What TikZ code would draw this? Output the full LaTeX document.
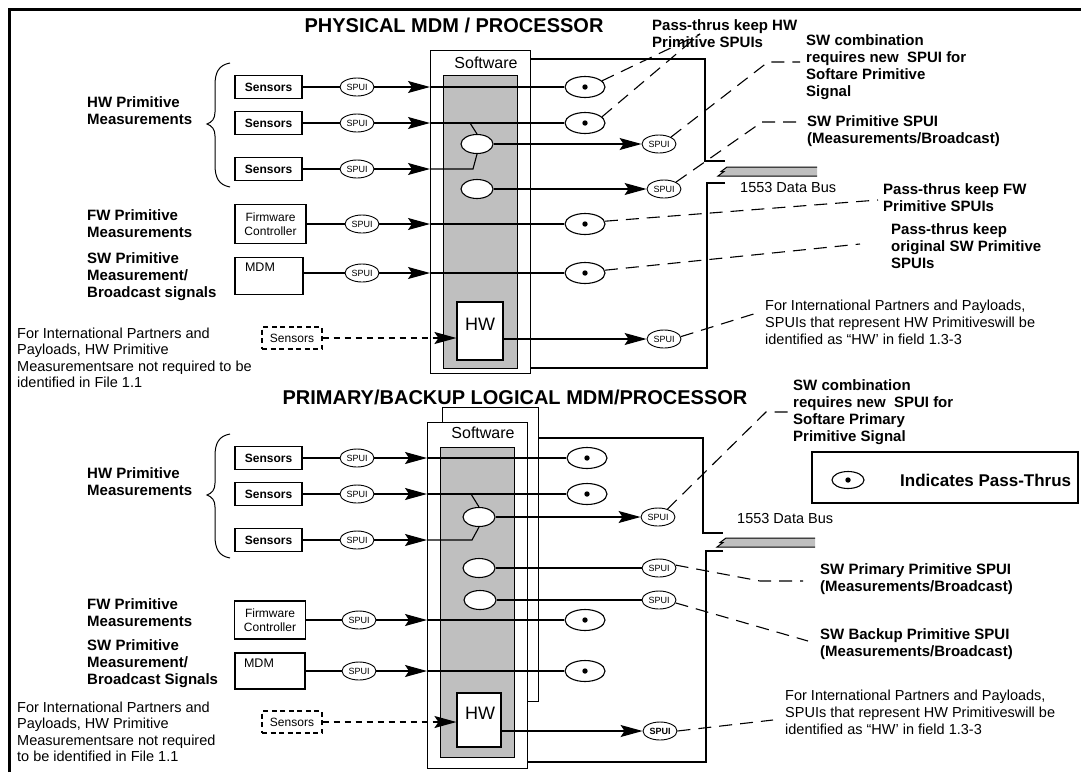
\documentclass[tikz,border=0pt]{standalone}
\usepackage{fontspec}
\setmainfont{Liberation Sans}
\usetikzlibrary{shapes.geometric,arrows.meta}
\begin{document}
\begin{tikzpicture}[x=1pt,y=-1pt,
  lbl/.style={font=\fontsize{15}{17}\selectfont\bfseries,align=left,anchor=west,inner sep=0pt},
  note/.style={font=\fontsize{14.5}{17}\selectfont,align=left,anchor=west,inner sep=0pt},
  ttl/.style={font=\fontsize{20}{24}\selectfont\bfseries,inner sep=0pt,anchor=base},
  sensor/.style={draw,line width=1.1pt,minimum width=67pt,minimum height=23pt,inner sep=0pt,font=\fontsize{12}{14}\selectfont\bfseries},
  unitbox/.style={draw,line width=1.1pt,inner sep=0pt,font=\fontsize{12}{14.5}\selectfont,align=center},
  spui/.style={draw,ellipse,line width=0.9pt,fill=white,minimum width=34pt,minimum height=18pt,inner sep=0pt,font=\fontsize{9}{10}\selectfont},
  pass/.style={draw,ellipse,line width=1.1pt,fill=white,minimum width=40pt,minimum height=21pt,inner sep=0pt,
    path picture={\fill[black] (path picture bounding box.center) circle (2.7pt);}},
  comb/.style={draw,ellipse,line width=1.1pt,fill=white,minimum width=32pt,minimum height=19pt,inner sep=0pt},
  swbox/.style={draw,line width=1.1pt,fill=white,anchor=north west,inner sep=0pt},
  panel/.style={draw,line width=1.1pt,fill=black!25,anchor=north west,inner sep=0pt},
  hwbox/.style={draw,line width=1.1pt,fill=white,inner sep=0pt},
  hwtxt/.style={font=\fontsize{18}{20}\selectfont,inner sep=0pt},
  swtxt/.style={font=\fontsize{16}{18}\selectfont,inner sep=0pt},
  dsens/.style={draw,line width=1.4pt,dash pattern=on 5pt off 3.5pt,minimum width=60pt,minimum height=22pt,inner sep=0pt,font=\fontsize{12}{14}\selectfont},
  wire/.style={line width=1.1pt},
  arr/.style={line width=1.1pt,-{Stealth[length=22pt,width=12pt,inset=4pt]}},
  darr/.style={line width=1.4pt,dash pattern=on 6pt off 5pt,-{Stealth[length=22pt,width=12pt,inset=4pt]}},
  lead/.style={line width=1.1pt,dash pattern=on 13pt off 8pt},
  bracecurve/.style={line width=1pt},
]
\useasboundingbox (0,0) rectangle (1081,772);
% outer frame (top and left)
\draw[line width=2.6pt] (9.5,772) -- (9.5,9.5) -- (1081,9.5);

% ================= PHYSICAL MDM / PROCESSOR =================
\node[ttl] (t1) at (454,32) {PHYSICAL MDM / PROCESSOR};
\node[swbox,minimum width=100pt,minimum height=323pt] (sw1) at (430,50) {};
\node[panel,minimum width=74pt,minimum height=293pt] (g1) at (443,75) {};
\node[swtxt] (swl1) at (486,63) {Software};

\node[lbl] (hwl1) at (87,111) {HW Primitive\\Measurements};
\draw[bracecurve] (230,63) .. controls (219,65) and (215,72) .. (215,85) -- (215,112)
  .. controls (215,119) and (212,122) .. (207,124) .. controls (212,126) and (215,129) .. (215,136)
  -- (215,165) .. controls (215,178) and (219,185) .. (230,187);

\node[sensor] (sa1) at (268.5,87) {Sensors};
\node[sensor] (sa2) at (268.5,123) {Sensors};
\node[sensor] (sa3) at (268.5,169) {Sensors};
\node[spui] (ua1) at (357,87) {SPUI};
\node[spui] (ua2) at (357,123) {SPUI};
\node[spui] (ua3) at (357,169) {SPUI};
\node[pass] (pa1) at (585,87) {};
\node[pass] (pa2) at (585,123) {};
\node[comb] (ca1) at (477,144) {};
\node[comb] (ca2) at (477,189) {};
\node[spui] (ya1) at (659,144) {SPUI};
\node[spui] (ya2) at (664,189) {SPUI};

\node[lbl] (fwl1) at (87,224) {FW Primitive\\Measurements};
\node[unitbox,minimum width=71pt,minimum height=39pt] (fa) at (270.5,224) {Firmware\\Controller};
\node[spui] (uaf) at (362,224) {SPUI};
\node[pass] (pa3) at (585,224) {};

\node[lbl] (swp1) at (87,277) {SW Primitive\\Measurement/\\Broadcast signals};
\node[unitbox,minimum width=68pt,minimum height=37pt] (ma) at (269,276) {};
\node[font=\fontsize{12.5}{14}\selectfont,inner sep=0pt] (mal) at (260,267) {MDM};
\node[spui] (uam) at (362,273) {SPUI};
\node[pass] (pa4) at (585,273) {};

\node[hwbox,minimum width=46pt,minimum height=58pt] (ha) at (480,331) {};
\node[hwtxt] (hal) at (480,324) {HW};
\node[dsens] (da) at (292,338) {Sensors};
\node[spui] (ya3) at (664,339) {SPUI};
\node[note,font=\fontsize{14.5}{16.5}\selectfont] (ipa) at (17,358) {For International Partners and\\Payloads, HW Primitive\\Measurementsare not required to be\\identified in File 1.1};

% signal paths
\foreach \s/\u/\p in {sa1/ua1/pa1, sa2/ua2/pa2} {
  \draw[wire] (\s) -- (\u);
  \draw[arr] (\u) -- (\u -| sw1.west);
  \draw[wire] (\u -| sw1.west) -- (\p);
}
\draw[wire] (sa3) -- (ua3);
\draw[arr] (ua3) -- (ua3 -| sw1.west);
\coordinate (ja2) at (470,123);
\coordinate (ja3) at (473,169);
\draw[wire] (ja2) -- (ca1.north);
\draw[wire] (ua3 -| sw1.west) -- (ja3) -- (ca1.south);
\draw[arr] (ca1) -- (ya1);
\draw[arr] (ca2) -- (ya2);
\draw[wire] (fa) -- (uaf);
\draw[arr] (uaf) -- (uaf -| sw1.west);
\draw[wire] (uaf -| sw1.west) -- (pa3);
\draw[wire] (uam -| ma.east) -- (uam);
\draw[arr] (uam) -- (uam -| sw1.west);
\draw[wire] (uam -| sw1.west) -- (pa4);
\draw[darr] (da) -- (da -| ha.west);
\draw[arr] (ha.east |- ya3) -- (ya3);

% data bus
\coordinate (bt1) at (705,59);
\coordinate (bk1) at (705,161);
\coordinate (bn1) at (725,161);
\draw[wire] (bt1 -| sw1.east) -- (bt1) -- (bk1) -- (bn1);
\coordinate (bl1) at (725,183);
\coordinate (bc1) at (707,183);
\coordinate (bb1) at (707,368);
\draw[wire] (bl1) -- (bc1) -- (bb1) -- (bb1 -| sw1.east);
\fill[black!25] (718,176) -- (724,171.5) -- (721,171.5) -- (727,167) -- (817,167) -- (817,176) -- cycle;
\draw[line width=1pt] (817,167) -- (727,167) -- (721,171.5) -- (724,171.5) -- (718,176) -- (817,176);
\node[note,anchor=base west] (db1) at (740,192) {1553 Data Bus};

% notes
\node[lbl] (n1) at (652,33.5) {Pass-thrus keep HW\\Primitive SPUIs};
\node[lbl] (n2) at (806,67.5) {SW combination\\requires new\ \ SPUI for\\Softare Primitive\\Signal};
\node[lbl] (n3) at (807,131) {SW Primitive SPUI\\(Measurements/Broadcast)};
\node[lbl] (n4) at (883,197.5) {Pass-thrus keep FW\\Primitive SPUIs};
\node[lbl] (n5) at (891,246.5) {Pass-thrus keep\\original SW Primitive\\SPUIs};
\node[note] (n6) at (765,322) {For International Partners and Payloads,\\SPUIs that represent HW Primitiveswill be\\identified as “HW’ in field 1.3-3};

\coordinate (e1) at (700,34);
\coordinate (e2a) at (768,62);
\coordinate (e2b) at (800,62);
\coordinate (e3a) at (762,122);
\coordinate (e3b) at (803,122);
\coordinate (e4) at (878,200);
\coordinate (e5) at (860,244);
\coordinate (e6) at (760,312);
\draw[lead] (pa1.20) -- (e1);
\draw[lead] (pa2.20) -- (e1);
\draw[lead] (ya1.30) -- (e2a) -- (e2b);
\draw[lead] (ya2.30) -- (e3a) -- (e3b);
\draw[lead] (pa3.8) -- (e4);
\draw[lead] (pa4.8) -- (e5);
\draw[lead] (ya3.8) -- (e6);

% ================= PRIMARY/BACKUP LOGICAL MDM/PROCESSOR =================
\node[ttl] (t2) at (515,404) {PRIMARY/BACKUP LOGICAL MDM/PROCESSOR};
\node[swbox,minimum width=96pt,minimum height=294pt] (bk) at (442,407) {};
\node[swbox,minimum width=100pt,minimum height=346pt] (sw2) at (427,422) {};
\node[panel,minimum width=74pt,minimum height=310pt] (g2) at (440,447) {};
\node[swtxt] (swl2) at (483,433) {Software};

\node[lbl] (hwl2) at (87,482) {HW Primitive\\Measurements};
\draw[bracecurve] (230,434) .. controls (219,436) and (215,443) .. (215,456) -- (215,483)
  .. controls (215,490) and (212,493) .. (207,495) .. controls (212,497) and (215,500) .. (215,507)
  -- (215,536) .. controls (215,549) and (219,556) .. (230,558);

\node[sensor] (sb1) at (268.5,458) {Sensors};
\node[sensor] (sb2) at (268.5,494) {Sensors};
\node[sensor] (sb3) at (268.5,540) {Sensors};
\node[spui] (ub1) at (357,458) {SPUI};
\node[spui] (ub2) at (357,494) {SPUI};
\node[spui] (ub3) at (357,540) {SPUI};
\node[pass] (pb1) at (587,458) {};
\node[pass] (pb2) at (587,494) {};
\node[comb] (cb1) at (479,517) {};
\node[comb] (cb2) at (479,568) {};
\node[comb] (cb3) at (480,600) {};
\node[spui] (yb1) at (658,517) {SPUI};
\node[spui] (yb2) at (659,568) {SPUI};
\node[spui] (yb3) at (659,600) {SPUI};

\node[lbl] (fwl2) at (87,613) {FW Primitive\\Measurements};
\node[unitbox,minimum width=71pt,minimum height=38pt] (fb) at (270,620) {Firmware\\Controller};
\node[spui] (ubf) at (359,620) {SPUI};
\node[pass] (pb3) at (585,620) {};

\node[lbl] (swp2) at (87,664) {SW Primitive\\Measurement/\\Broadcast Signals};
\node[unitbox,minimum width=70pt,minimum height=36pt] (mb) at (270,671) {};
\node[font=\fontsize{12.5}{14}\selectfont,inner sep=0pt] (mbl) at (259,663) {MDM};
\node[spui] (ubm) at (359,671) {SPUI};
\node[pass] (pb4) at (585,671) {};

\node[hwbox,minimum width=44pt,minimum height=54pt] (hb) at (479,720) {};
\node[hwtxt] (hbl) at (480,713) {HW};
\node[dsens] (dbs) at (292,722) {Sensors};
\node[spui,font=\fontsize{9}{10}\selectfont\bfseries] (yb4) at (660,731) {SPUI};
\node[note,font=\fontsize{14.5}{16.5}\selectfont] (ipb) at (17,732) {For International Partners and\\Payloads, HW Primitive\\Measurementsare not required\\to be identified in File 1.1};

\foreach \s/\u/\p in {sb1/ub1/pb1, sb2/ub2/pb2} {
  \draw[wire] (\s) -- (\u);
  \draw[arr] (\u) -- (\u -| sw2.west);
  \draw[wire] (\u -| sw2.west) -- (\p);
}
\draw[wire] (sb3) -- (ub3);
\draw[arr] (ub3) -- (ub3 -| sw2.west);
\coordinate (jb2) at (471,494);
\coordinate (jb3) at (472,540);
\draw[wire] (jb2) -- (cb1.north);
\draw[wire] (ub3 -| sw2.west) -- (jb3) -- (cb1.south);
\draw[arr] (cb1) -- (yb1);
\draw[wire] (cb2) -- (yb2);
\draw[wire] (cb3) -- (yb3);
\draw[wire] (fb) -- (ubf);
\draw[arr] (ubf) -- (ubf -| sw2.west);
\draw[wire] (ubf -| sw2.west) -- (pb3);
\draw[wire] (ubm -| mb.east) -- (ubm);
\draw[arr] (ubm) -- (ubm -| sw2.west);
\draw[wire] (ubm -| sw2.west) -- (pb4);
\draw[darr] (dbs) -- (dbs -| hb.west);
\draw[arr] (hb.east |- yb4) -- (yb4);

% data bus
\coordinate (bt2) at (703,438);
\coordinate (bk2) at (703,533);
\coordinate (bn2) at (723,533);
\draw[wire] (bt2 -| bk.east) -- (bt2) -- (bk2) -- (bn2);
\coordinate (bl2) at (723,551);
\coordinate (bc2) at (706,551);
\coordinate (bb2) at (706,762);
\draw[wire] (bl2) -- (bc2) -- (bb2) -- (bb2 -| sw2.east);
\fill[black!25] (717,547) -- (723,542.5) -- (720,542.5) -- (726,538) -- (815,538) -- (815,547) -- cycle;
\draw[line width=1pt] (815,538) -- (726,538) -- (720,542.5) -- (723,542.5) -- (717,547) -- (815,547);
\node[note,anchor=base west] (db2) at (737,523) {1553 Data Bus};

% legend
\node[draw,line width=1.1pt,minimum width=266pt,minimum height=51pt,inner sep=0pt] (leg) at (945,477.5) {};
\node[pass,minimum width=32pt,minimum height=17pt] (legp) at (848,480) {};
\node[font=\fontsize{17}{20}\selectfont\bfseries,anchor=west,inner sep=0pt] (legt) at (900,480) {Indicates Pass-Thrus};

% notes
\node[lbl] (m1) at (793,412) {SW combination\\requires new\ \ SPUI for\\Softare Primary\\Primitive Signal};
\node[lbl] (m2) at (820,579.5) {SW Primary Primitive SPUI\\(Measurements/Broadcast)};
\node[lbl] (m3) at (820,644.5) {SW Backup Primitive SPUI\\(Measurements/Broadcast)};
\node[note] (m4) at (785,712) {For International Partners and Payloads,\\SPUIs that represent HW Primitiveswill be\\identified as “HW’ in field 1.3-3};

\coordinate (f1a) at (766,412);
\coordinate (f1b) at (790,412);
\coordinate (f2a) at (760,581);
\coordinate (f2b) at (803,581);
\coordinate (f3) at (808,641);
\coordinate (f4) at (773,720);
\draw[lead] (yb1.40) -- (f1a) -- (f1b);
\draw[lead] (yb2.10) -- (f2a) -- (f2b);
\draw[lead] (yb3.-10) -- (f3);
\draw[lead] (yb4.east) -- (f4);
\end{tikzpicture}
\end{document}
